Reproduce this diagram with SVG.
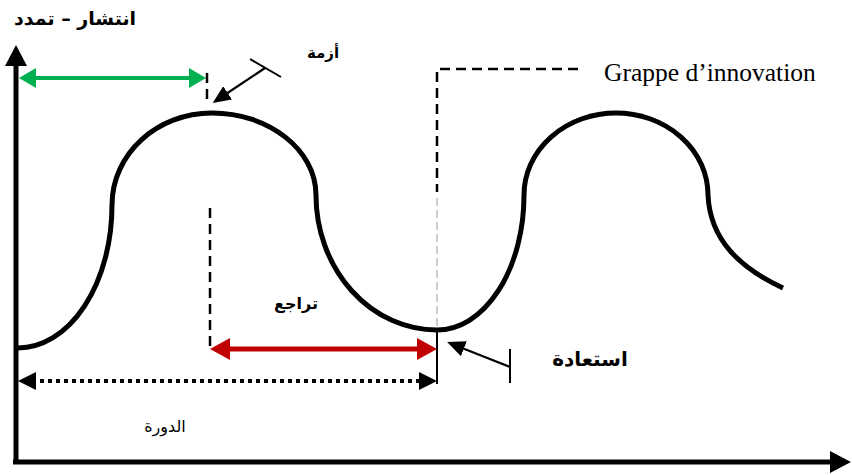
<svg xmlns="http://www.w3.org/2000/svg" width="852" height="475" viewBox="0 0 852 475">
<style>
.ar{font-family:"DejaVu Sans","Noto Sans",sans-serif;fill:#000}
.b{font-weight:bold}
.dash{fill:none;stroke:#000;stroke-width:2.5;stroke-dasharray:10 6}
</style>
<defs>
<marker id="hG" markerUnits="userSpaceOnUse" markerWidth="18" markerHeight="20" refX="4" refY="10" orient="auto-start-reverse"><path d="M0,0 L17,10 L0,20 Z" fill="#00b050"/></marker>
<marker id="hR" markerUnits="userSpaceOnUse" markerWidth="21" markerHeight="22" refX="4" refY="11" orient="auto-start-reverse"><path d="M0,0 L20,11 L0,22 Z" fill="#c00000"/></marker>
<marker id="hK" markerUnits="userSpaceOnUse" markerWidth="19" markerHeight="18" refX="4" refY="9" orient="auto-start-reverse"><path d="M0,0 L18,9 L0,18 Z" fill="#000"/></marker>
<marker id="hA" markerUnits="userSpaceOnUse" markerWidth="22" markerHeight="22" refX="4" refY="11" orient="auto"><path d="M0,0 L21,11 L0,22 Z" fill="#000"/></marker>
<marker id="hS" markerUnits="userSpaceOnUse" markerWidth="19" markerHeight="16" refX="2" refY="8" orient="auto"><path d="M0,0 L18,8 L0,16 Z" fill="#000"/></marker>
</defs>

<g id="axes">
<line x1="16" y1="462" x2="16" y2="62" stroke="#000" stroke-width="5" marker-end="url(#hA)"/>
<line x1="13" y1="462" x2="834" y2="462" stroke="#000" stroke-width="5" marker-end="url(#hA)"/>
</g>

<g id="curve">
<path d="M 18 348 A 94 143 0 0 0 112 205 C 112 154, 157 113, 212 113 C 269 113, 316 150, 316 195 A 121 135 0 0 0 437 330 A 87 135 0 0 0 524 195 A 92 82 0 0 1 708 195 C 710 240, 740 268, 783 288" fill="none" stroke="#000" stroke-width="5"/>
</g>

<g id="connectors">
<line x1="32" y1="78" x2="193" y2="78" stroke="#00b050" stroke-width="4" marker-start="url(#hG)" marker-end="url(#hG)"/>
<line x1="207" y1="73" x2="207" y2="104" class="dash"/>
<line x1="250" y1="59" x2="281" y2="77" stroke="#000" stroke-width="2"/>
<line x1="265" y1="68" x2="226" y2="94" stroke="#000" stroke-width="2.2" marker-end="url(#hS)"/>
<path d="M 578 69 H 437 V 192" class="dash"/>
<line x1="437" y1="198" x2="437" y2="330" stroke="#999" stroke-width="1" stroke-dasharray="8 4"/>
<line x1="437" y1="330" x2="437" y2="384" stroke="#000" stroke-width="2"/>
<line x1="210" y1="208" x2="210" y2="348" class="dash"/>
<line x1="226" y1="349" x2="421" y2="349" stroke="#c00000" stroke-width="5" marker-start="url(#hR)" marker-end="url(#hR)"/>
<line x1="32" y1="381" x2="423" y2="381" stroke="#000" stroke-width="4" stroke-dasharray="4 4" marker-start="url(#hK)" marker-end="url(#hK)"/>
<line x1="510" y1="349" x2="510" y2="383" stroke="#000" stroke-width="2"/>
<line x1="510" y1="367" x2="462" y2="348" stroke="#000" stroke-width="2.2" marker-end="url(#hS)"/>
</g>

<g id="labels">
<text x="75" y="25" class="ar b" font-size="19" text-anchor="middle">انتشار – تمدد</text>
<text x="323" y="58" class="ar b" font-size="15" text-anchor="middle">أزمة</text>
<text x="604" y="81" font-family="Liberation Serif, serif" font-size="25.5" fill="#000">Grappe d’innovation</text>
<text x="296" y="309" class="ar b" font-size="16" text-anchor="middle">تراجع</text>
<text x="590" y="366" class="ar b" font-size="20" text-anchor="middle">استعادة</text>
<text x="165" y="432" class="ar" font-size="16" text-anchor="middle">الدورة</text>
</g>
</svg>
